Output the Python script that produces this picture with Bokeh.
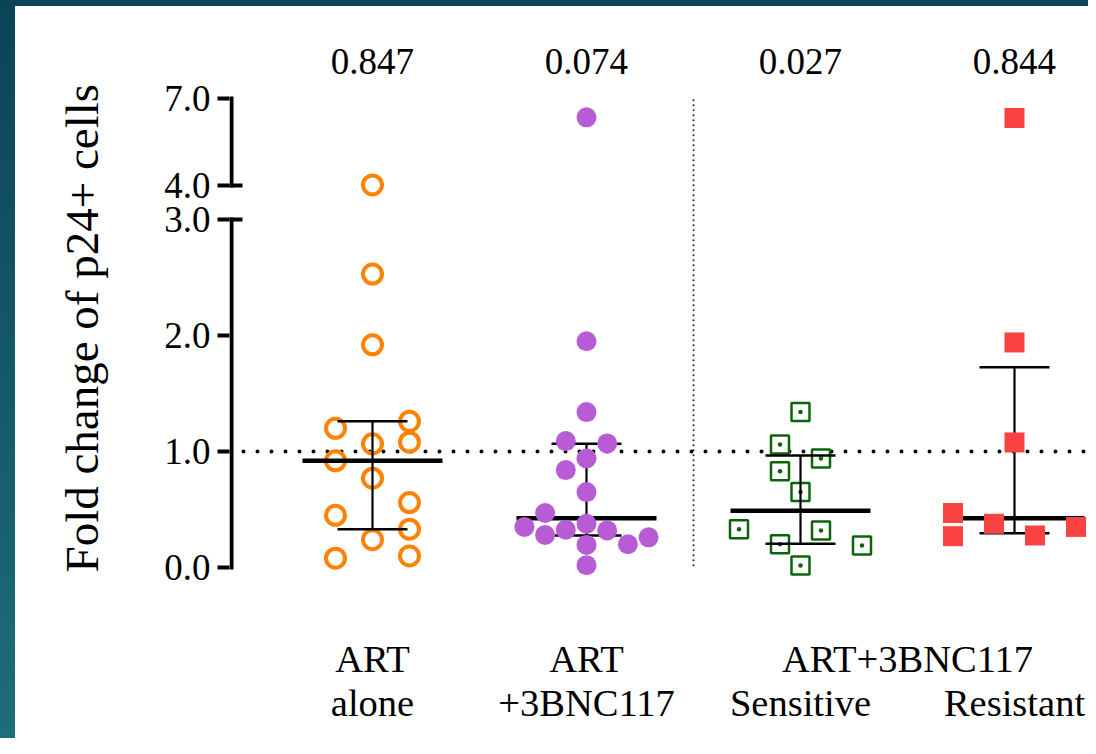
import numpy as np
from bokeh.plotting import figure
from bokeh.layouts import column
from bokeh.models import (ColumnDataSource, Range1d, FixedTicker, CustomJSTickFormatter,
                          Title, Spacer)
from bokeh.core.properties import value
from bokeh.embed import file_html
from bokeh.resources import INLINE

# ---------------- data ----------------
group_x = [0, 1, 2, 3]
label_line1 = ["ART", "ART", "ART+3BNC117"]
label_line1_x = [0, 1, 2.5]
label_line2 = ["alone", "+3BNC117", "Sensitive", "Resistant"]
p_values = ["0.847", "0.074", "0.027", "0.844"]

art_alone = [4.02, 2.53, 1.92, 1.20, 1.26, 1.066, 1.08, 0.92, 0.77, 0.56, 0.45, 0.33, 0.24, 0.08, 0.10]
art_alone_slot = [0, 0, 0, -1, 1, 0, 1, -1, 0, 1, -1, 1, 0, -1, 1]

art_bnc = [6.35, 1.95, 1.34, 1.09, 1.07, 0.94, 0.84, 0.65, 0.47, 0.35, 0.28, 0.325, 0.377, 0.32, 0.20, 0.26, 0.195, 0.02]
art_bnc_slot = [0, 0, 0, -1, 1, 0, -1, 0, -2, -3, -2, -1, 0, 1, 2, 3, 0, 0]

sensitive = [1.34, 1.06, 0.94, 0.83, 0.65, 0.33, 0.32, 0.20, 0.19, 0.017]
sensitive_slot = [0, -1, 1, -1, 0, -3, 1, -1, 3, 0]

resistant = [6.33, 1.94, 1.078, 0.47, 0.27, 0.377, 0.276, 0.35]
resistant_slot = [0, 0, 0, -3, -3, -1, 1, 3]

medians = [0.92, 0.425, 0.49, 0.425]
q1 = [0.33, 0.276, 0.204, 0.296]
q3 = [1.26, 1.066, 0.966, 1.727]
ref_level = 1.0
separator_x = 1.5

lower_ticks = [0.0, 1.0, 2.0, 3.0]    # lower axis segment
upper_ticks = [4.0, 7.0]              # upper axis segment (compressed)
tick_text = ["0.0", "1.0", "2.0", "3.0", "4.0", "7.0"]
y_title = "Fold change of  p24+ cells"

# ---------------- layout / styles ----------------
FONT = "Liberation Serif"
ORANGE = "#FF8200"
PURPLE = "#B85CD6"
GREEN = "#0A650A"
RED = "#F94343"
TEAL_DARK = "#0B4457"
TEAL_LIGHT = "#1E6D7A"

STRIP_W, STRIP_H = 15, 6
TOTAL_W, TOTAL_H = 1088, 738

X_START, X_END = -0.6682, 3.3458
XU = 1.0 / 214.0          # x data units per pixel

# lower range (0..3) and upper range (4..7) share the frame;
# the upper range starts (value 4) at BREAK_AT in lower units and is 4x compressed
LO_START, LO_END = -1.4741, 4.8362
BREAK_AT = 3.293
COMPRESS = 0.25
UP_START = upper_ticks[0] + (LO_START - BREAK_AT) / COMPRESS
UP_END = upper_ticks[0] + (LO_END - BREAK_AT) / COMPRESS


def upper_in_lower(v):
    return BREAK_AT + (v - upper_ticks[0]) * COMPRESS


tick_pos = lower_ticks + [upper_in_lower(v) for v in upper_ticks]

fig = figure(width=TOTAL_W, height=TOTAL_H - STRIP_H, output_backend="svg",
             toolbar_location=None,
             x_range=Range1d(X_START, X_END), y_range=Range1d(LO_START, LO_END),
             min_border_left=229, min_border_right=0, min_border_top=0,
             min_border_bottom=0, background_fill_color="white",
             border_fill_color=None)
# dark left strip of the original slide, white elsewhere
fig.styles = {"background": (f"linear-gradient(to right, rgba(255,255,255,0) {STRIP_W}px, "
                             f"white {STRIP_W}px), linear-gradient({TEAL_DARK}, {TEAL_LIGHT})")}
fig.extra_y_ranges = {"upper": Range1d(UP_START, UP_END)}
fig.xaxis.visible = False
fig.grid.visible = False
fig.outline_line_color = None

ax = fig.yaxis[0]
ax.ticker = FixedTicker(ticks=tick_pos, minor_ticks=[lower_ticks[-1], tick_pos[4]])
ax.formatter = CustomJSTickFormatter(args=dict(pos=tick_pos, txt=tick_text), code="""
for (let i = 0; i < pos.length; i++) {
  if (Math.abs(tick - pos[i]) < 1e-9) { return txt[i]; }
}
return tick.toFixed(1);
""")
ax.bounds = (tick_pos[0], tick_pos[-1])
ax.axis_line_color = None
ax.major_tick_line_width = 4
ax.major_tick_line_color = "black"
ax.major_tick_out = 12
ax.major_tick_in = 0
ax.minor_tick_line_width = 4
ax.minor_tick_line_color = "black"
ax.minor_tick_out = 0
ax.minor_tick_in = 13
ax.major_label_standoff = 7
ax.major_label_text_font = FONT
ax.major_label_text_font_size = "37px"
ax.major_label_text_color = "black"

title = Title(text=y_title, align="left", vertical_align="top", offset=166, standoff=104,
              text_font=FONT, text_font_size="47px", text_font_style="normal",
              text_color="black")
fig.add_layout(title, "left")

# broken axis line: one segment per axis part
AX_X = X_START + 2 * XU
fig.segment(x0=[AX_X], x1=[AX_X], y0=[lower_ticks[0]], y1=[lower_ticks[-1]],
            line_width=4, line_color="black", line_cap="square")
fig.segment(x0=[AX_X], x1=[AX_X], y0=[upper_ticks[0]], y1=[upper_ticks[-1]],
            line_width=4, line_color="black", line_cap="square", y_range_name="upper")

# reference lines
fig.segment(x0=[X_START + 14 * XU], x1=[X_END], y0=[ref_level], y1=[ref_level],
            line_width=4, line_color="black", line_dash="0 14", line_cap="round")
fig.segment(x0=[separator_x], x1=[separator_x], y0=[0.02], y1=[upper_in_lower(7.03)],
            line_width=2, line_color="#222222", line_dash="0 5", line_cap="round")


def split(vals, slots, gx, spacing):
    v = np.array(vals, dtype=float)
    x = gx + np.array(slots, dtype=float) * spacing
    lo = v <= lower_ticks[-1]
    return (ColumnDataSource(dict(x=x[lo], y=v[lo])),
            ColumnDataSource(dict(x=x[~lo], y=v[~lo])))


o_lo, o_up = split(art_alone, art_alone_slot, group_x[0], 37 * XU)
pu_lo, pu_up = split(art_bnc, art_bnc_slot, group_x[1], 20.7 * XU)
g_lo, g_up = split(sensitive, sensitive_slot, group_x[2], 20.5 * XU)
r_lo, r_up = split(resistant, resistant_slot, group_x[3], 20.5 * XU)

# open markers (beneath the summary lines)
for src, rng in ((o_lo, "default"), (o_up, "upper")):
    fig.scatter("x", "y", source=src, marker="circle", size=19, fill_alpha=0,
                line_color=ORANGE, line_width=4, y_range_name=rng)
for src, rng in ((g_lo, "default"), (g_up, "upper")):
    fig.scatter("x", "y", source=src, marker="square_dot", size=18, fill_color="white",
                line_color=GREEN, line_width=2.5, y_range_name=rng)

# median and interquartile range
gx = np.array(group_x, dtype=float)
fig.segment(x0=gx - 70 * XU, x1=gx + 70 * XU, y0=medians, y1=medians,
            line_width=4.5, line_color="black")
fig.segment(x0=gx, x1=gx, y0=q1, y1=q3, line_width=2.2, line_color="black")
fig.segment(x0=gx - 35 * XU, x1=gx + 35 * XU, y0=q1, y1=q1, line_width=2.5, line_color="black")
fig.segment(x0=gx - 35 * XU, x1=gx + 35 * XU, y0=q3, y1=q3, line_width=2.5, line_color="black")

# filled markers
for src, rng in ((pu_lo, "default"), (pu_up, "upper")):
    fig.scatter("x", "y", source=src, marker="circle", size=20, fill_color=PURPLE,
                line_color=None, y_range_name=rng)
for src, rng in ((r_lo, "default"), (r_up, "upper")):
    fig.scatter("x", "y", source=src, marker="square", size=20, fill_color=RED,
                line_color=None, y_range_name=rng)

# p-values above each group
fig.text(x=group_x, y=[8.277] * 4, text=p_values, y_range_name="upper",
         text_font=value(FONT), text_font_size=value("37px"), text_color="black",
         text_align="center", text_baseline="alphabetic")

# category labels
fig.text(x=label_line1_x, y=[-0.785] * 3, text=label_line1,
         text_font=value(FONT), text_font_size=value("38.5px"), text_color="black",
         text_align="center", text_baseline="alphabetic")
fig.text(x=group_x, y=[-1.166] * 4, text=label_line2,
         text_font=value(FONT), text_font_size=value("38.5px"), text_color="black",
         text_align="center", text_baseline="alphabetic")

# dark top strip of the original slide
top_strip = Spacer(width=TOTAL_W, height=STRIP_H, styles={"background-color": TEAL_DARK})
p = column(top_strip, fig, spacing=0)

open("out.html", "w").write(file_html(p, INLINE))
